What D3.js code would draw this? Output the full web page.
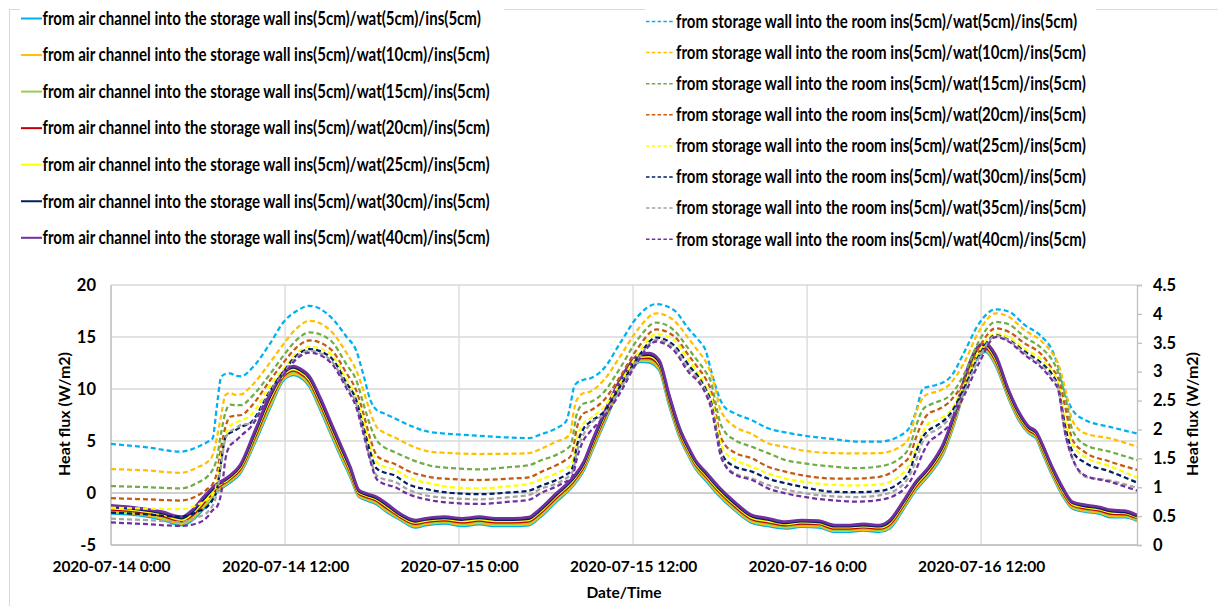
<!DOCTYPE html>
<html>
<head>
<meta charset="utf-8">
<script src="https://cdn.jsdelivr.net/npm/d3@7"></script>
<style>
  body { margin: 0; background: #fff; }
  svg text { font-family: Lato, "Open Sans", "DejaVu Sans", sans-serif; font-weight: 700; fill: #000; }
</style>
</head>
<body>
<svg id="chart" width="1218" height="606"></svg>
<script>
// ---------------------------------------------------------------
// Data: heat flux over 2020-07-14 0:00 .. 2020-07-16 22:45
// times are hours after 2020-07-14 0:00
// ---------------------------------------------------------------
const solidHours = [0,1.9,3.5,4.9,5.6, 6.5,7.2,8.1,8.9,9.9, 11.0,11.9,12.6,13.0,13.7, 14.4,15.1,15.8,16.5,17.1,
  17.6,18.3,19.0,19.9,21.0, 21.7,23.0,24.2,25.4,26.5, 27.7,28.8,29.5,30.7,31.9, 32.6,33.2,34.2,35.1,35.8,
  36.5,37.1,37.8,38.5,39.2, 39.9,40.3,41.0,41.9,43.0, 44.2,45.3,46.5,47.6,48.8, 49.9,50.7,51.9,53.0,53.7,
  54.6,55.5,56.4,57.4,58.3, 59.1,59.9,60.3,61.0,61.9, 62.6,63.3,63.8,64.2,64.9, 65.6,66.3,67.2,68.1,69.0,
  69.9,70.75];

// from air channel into the storage wall (left axis, W/m2)
const airWat5 = [-1.95,-2.12,-2.53,-3.08,-2.60, -1.32,-0.03,0.93,1.89,4.78, 8.30,10.87,11.35,11.18,10.22, 8.14,5.90,3.65,1.57,-0.36,
  -0.67,-1.06,-1.80,-2.53,-3.30, -3.08,-2.91,-3.17,-3.00,-3.17, -3.17,-3.08,-2.43,-0.84,0.77, 2.21,4.13,7.34,10.22,11.83,
  12.63,12.55,11.83,8.40,5.40, 3.40,2.38,1.25,-0.19,-1.63, -2.86,-3.17,-3.40,-3.24,-3.30, -3.72,-3.72,-3.60,-3.72,-3.40,
  -1.63,0.29,1.73,3.82,7.34, 11.18,13.27,13.59,12.31,9.10, 7.02,5.74,5.26,3.97,1.73, -0.19,-1.47,-1.80,-1.95,-2.33,
  -2.33,-2.66];
const airWat10 = [-1.83,-2.01,-2.41,-2.95,-2.44, -1.13,0.10,1.04,2.02,4.97, 8.52,11.00,11.49,11.32,10.38, 8.33,6.09,3.84,1.73,-0.25,
  -0.56,-0.94,-1.67,-2.43,-3.18, -2.97,-2.81,-3.05,-2.88,-3.05, -3.05,-2.96,-2.30,-0.71,0.90, 2.34,4.29,7.50,10.33,11.94,
  12.75,12.70,11.99,8.57,5.55, 3.53,2.51,1.38,-0.06,-1.50, -2.74,-3.05,-3.29,-3.13,-3.19, -3.61,-3.61,-3.50,-3.61,-3.27,
  -1.50,0.42,1.86,3.98,7.50, 11.34,13.43,13.72,12.47,9.23, 7.15,5.85,5.37,4.11,1.86, -0.06,-1.37,-1.69,-1.85,-2.21,
  -2.23,-2.57];
const airWat15 = [-1.70,-1.90,-2.29,-2.81,-2.28, -0.94,0.24,1.14,2.16,5.15, 8.73,11.13,11.64,11.45,10.54, 8.51,6.27,4.03,1.89,-0.14,
  -0.46,-0.83,-1.53,-2.34,-3.07, -2.86,-2.70,-2.92,-2.76,-2.92, -2.93,-2.83,-2.16,-0.57,1.04, 2.48,4.45,7.66,10.44,12.04,
  12.88,12.85,12.15,8.73,5.70, 3.67,2.64,1.52,0.08,-1.37, -2.61,-2.92,-3.19,-3.03,-3.09, -3.51,-3.51,-3.39,-3.51,-3.13,
  -1.37,0.56,2.00,4.14,7.66, 11.50,13.59,13.86,12.63,9.37, 7.29,5.95,5.47,4.24,2.00, 0.08,-1.26,-1.58,-1.74,-2.10,
  -2.12,-2.48];
const airWat20 = [-1.58,-1.79,-2.17,-2.68,-2.12, -0.76,0.37,1.25,2.29,5.34, 8.95,11.27,11.78,11.59,10.71, 8.70,6.46,4.22,2.05,-0.04,
  -0.35,-0.71,-1.40,-2.24,-2.95, -2.76,-2.60,-2.80,-2.64,-2.80, -2.81,-2.71,-2.03,-0.44,1.17, 2.61,4.62,7.82,10.55,12.15,
  13.00,13.00,12.31,8.90,5.85, 3.80,2.78,1.65,0.21,-1.24, -2.49,-2.80,-3.08,-2.92,-2.98, -3.40,-3.40,-3.29,-3.40,-3.00,
  -1.24,0.69,2.13,4.30,7.82, 11.67,13.75,13.99,12.79,9.50, 7.42,6.06,5.58,4.38,2.13, 0.21,-1.16,-1.48,-1.64,-1.98,
  -2.02,-2.39];
const airWat25 = [-1.45,-1.67,-2.04,-2.55,-1.95, -0.57,0.50,1.36,2.42,5.53, 9.16,11.40,11.92,11.72,10.87, 8.89,6.65,4.40,2.21,0.07,
  -0.24,-0.59,-1.26,-2.14,-2.83, -2.65,-2.49,-2.68,-2.52,-2.68, -2.69,-2.58,-1.90,-0.30,1.30, 2.74,4.78,7.98,10.65,12.26,
  13.12,13.15,12.47,9.07,6.00, 3.93,2.91,1.78,0.34,-1.10, -2.37,-2.68,-2.97,-2.81,-2.87, -3.29,-3.29,-3.19,-3.29,-2.87,
  -1.10,0.82,2.26,4.46,7.98, 11.83,13.91,14.12,12.95,9.63, 7.55,6.17,5.69,4.51,2.26, 0.34,-1.05,-1.37,-1.53,-1.86,
  -1.91,-2.30];
const airWat30 = [-1.33,-1.56,-1.92,-2.41,-1.79, -0.38,0.64,1.46,2.56,5.71, 9.38,11.53,12.07,11.86,11.03, 9.07,6.83,4.59,2.37,0.18,
  -0.14,-0.48,-1.13,-2.05,-2.72, -2.54,-2.39,-2.55,-2.40,-2.55, -2.57,-2.46,-1.76,-0.17,1.44, 2.88,4.94,8.14,10.76,12.36,
  13.25,13.30,12.63,9.23,6.15, 4.07,3.04,1.92,0.48,-0.97, -2.24,-2.55,-2.87,-2.71,-2.77, -3.19,-3.19,-3.08,-3.19,-2.73,
  -0.97,0.96,2.40,4.62,8.14, 11.99,14.07,14.26,13.11,9.77, 7.69,6.27,5.79,4.65,2.40, 0.48,-0.95,-1.26,-1.43,-1.75,
  -1.81,-2.21];
const airWat40 = [-1.20,-1.45,-1.80,-2.28,-1.63, -0.19,0.77,1.57,2.69,5.90, 9.59,11.66,12.21,11.99,11.19, 9.26,7.02,4.78,2.53,0.29,
  -0.03,-0.36,-0.99,-1.95,-2.60, -2.43,-2.28,-2.43,-2.28,-2.43, -2.45,-2.33,-1.63,-0.03,1.57, 3.01,5.10,8.30,10.87,12.47,
  13.37,13.45,12.79,9.40,6.30, 4.20,3.17,2.05,0.61,-0.84, -2.12,-2.43,-2.76,-2.60,-2.66, -3.08,-3.08,-2.98,-3.08,-2.60,
  -0.84,1.09,2.53,4.78,8.30, 12.15,14.23,14.39,13.27,9.90, 7.82,6.38,5.90,4.78,2.53, 0.61,-0.84,-1.15,-1.32,-1.63,
  -1.70,-2.12];

const dashedHours = [0,2.5,4.8,6.0,6.7, 7.0,7.3,7.6,7.9,8.2, 8.6,9.0,9.6,11.0,11.9, 12.8,13.7,15.1,16.25,16.9,
  17.4,17.9,18.3,18.8,19.5, 20.5,21.9,23.5,25.4,27.5, 28.8,29.7,30.7,31.4,31.7, 31.9,32.1,32.6,33.0,34.0,
  35.1,36.3,37.6,38.8,39.9, 40.5,41.0,41.4,41.7,42.0, 42.3,43.0,44.2,45.3,46.5, 47.6,49.9,51.4,53.0,54.6,
  55.1,55.5,56.0,56.4,56.9, 57.9,58.8,59.9,61.0,61.9, 63.0,64.2,64.9,65.3,65.8, 66.3,67.2,68.8,70.75];

// from storage wall into the room (right axis, W/m2)
const roomWat5 = [1.75,1.69,1.615,1.70,1.79, 1.84,2.40,2.91,2.96,2.97, 2.93,2.92,3.03,3.50,3.86, 4.05,4.14,3.96,3.60,3.37,
  2.95,2.50,2.34,2.28,2.20, 2.08,1.96,1.92,1.89,1.86, 1.85,1.92,2.02,2.15,2.45, 2.71,2.80,2.86,2.88,3.06,
  3.49,3.95,4.17,4.07,3.72, 3.55,3.37,3.00,2.74,2.52, 2.39,2.28,2.16,2.02,1.95, 1.90,1.83,1.79,1.79,1.92,
  2.05,2.30,2.71,2.74,2.77, 2.91,3.32,3.85,4.08,4.04, 3.81,3.60,3.37,3.10,2.62, 2.34,2.16,2.05,1.93];
const roomWat10 = [1.315,1.29,1.25,1.35,1.45, 1.55,1.85,2.25,2.60,2.63, 2.60,2.61,2.73,3.17,3.48, 3.75,3.88,3.72,3.32,3.03,
  2.68,2.28,2.05,1.95,1.87, 1.74,1.62,1.59,1.575,1.58, 1.59,1.67,1.79,1.86,1.95, 2.30,2.50,2.63,2.65,2.86,
  3.26,3.72,4.01,3.89,3.55, 3.35,3.18,2.95,2.68,2.35, 2.22,2.05,1.92,1.76,1.70, 1.64,1.59,1.585,1.59,1.73,
  1.90,2.28,2.55,2.62,2.65, 2.80,3.14,3.72,4.01,3.95, 3.72,3.52,3.32,3.15,2.70, 2.15,1.93,1.85,1.70];
const roomWat15 = [1.02,1.00,0.98,1.08,1.20, 1.30,1.50,1.95,2.30,2.43, 2.42,2.42,2.54,2.97,3.28, 3.55,3.68,3.55,3.12,2.86,
  2.45,2.05,1.82,1.70,1.615, 1.50,1.38,1.33,1.31,1.35, 1.38,1.47,1.56,1.66,1.73, 1.95,2.25,2.45,2.47,2.65,
  3.06,3.55,3.85,3.72,3.37, 3.17,3.00,2.80,2.45,2.12, 1.97,1.82,1.70,1.59,1.47, 1.42,1.355,1.33,1.36,1.54,
  1.72,2.05,2.35,2.42,2.47, 2.60,2.94,3.55,3.86,3.82, 3.60,3.40,3.20,3.00,2.57, 1.99,1.73,1.62,1.47];
const roomWat20 = [0.81,0.79,0.77,0.86,0.98, 1.05,1.25,1.70,2.05,2.22, 2.24,2.25,2.38,2.86,3.16, 3.42,3.54,3.40,2.97,2.68,
  2.28,1.82,1.56,1.47,1.41, 1.28,1.18,1.14,1.125,1.15, 1.17,1.27,1.38,1.48,1.54, 1.70,2.00,2.28,2.32,2.51,
  2.91,3.40,3.73,3.62,3.26, 3.06,2.88,2.65,2.28,1.90, 1.75,1.60,1.50,1.355,1.27, 1.21,1.15,1.15,1.18,1.41,
  1.55,1.85,2.15,2.28,2.33, 2.50,2.82,3.43,3.75,3.69, 3.49,3.29,3.05,2.90,2.39, 1.82,1.60,1.45,1.30];
const roomWat25 = [0.645,0.63,0.62,0.70,0.80, 0.88,1.05,1.55,1.90,2.06, 2.12,2.16,2.24,2.77,3.05, 3.32,3.43,3.32,2.86,2.57,
  2.16,1.70,1.44,1.36,1.31, 1.17,1.07,1.00,0.98,1.02, 1.06,1.14,1.24,1.33,1.38, 1.50,1.80,2.11,2.18,2.39,
  2.80,3.29,3.65,3.55,3.17, 2.97,2.75,2.55,2.16,1.80, 1.62,1.48,1.355,1.24,1.15, 1.10,1.04,1.03,1.05,1.24,
  1.42,1.65,1.96,2.11,2.16, 2.33,2.75,3.37,3.66,3.60, 3.40,3.20,3.00,2.82,2.16, 1.75,1.52,1.37,1.17];
const roomWat30 = [0.56,0.53,0.49,0.58,0.68, 0.78,0.95,1.45,1.87,1.94, 1.99,2.05,2.11,2.68,3.00, 3.28,3.39,3.26,2.80,2.51,
  2.05,1.59,1.33,1.26,1.21, 1.05,0.96,0.90,0.88,0.91, 0.94,1.03,1.125,1.22,1.28, 1.40,1.68,2.02,2.12,2.31,
  2.74,3.23,3.59,3.46,3.09, 2.91,2.70,2.45,2.05,1.68, 1.50,1.36,1.27,1.15,1.07, 1.01,0.92,0.915,0.935,1.125,
  1.30,1.60,1.88,1.99,2.06, 2.28,2.70,3.30,3.63,3.55, 3.35,3.14,2.95,2.75,2.05, 1.62,1.42,1.28,1.08];
const roomWat35 = [0.455,0.43,0.40,0.48,0.58, 0.68,0.90,1.40,1.85,1.96, 2.02,2.08,2.10,2.66,2.97, 3.25,3.36,3.21,2.75,2.45,
  1.98,1.47,1.21,1.14,1.10, 0.96,0.85,0.81,0.79,0.83, 0.865,0.98,1.06,1.16,1.22, 1.32,1.58,1.92,2.08,2.27,
  2.69,3.20,3.55,3.42,3.03, 2.87,2.66,2.40,2.02,1.62, 1.42,1.24,1.15,1.04,0.96, 0.905,0.84,0.83,0.86,1.04,
  1.22,1.45,1.80,1.92,1.99, 2.22,2.63,3.26,3.62,3.54, 3.32,3.10,2.90,2.72,1.93, 1.50,1.18,1.12,0.99];
const roomWat40 = [0.39,0.36,0.33,0.38,0.50, 0.60,0.66,0.90,1.50,1.72, 1.80,1.90,2.03,2.63,2.94, 3.22,3.33,3.17,2.71,2.39,
  1.93,1.44,1.15,1.06,1.01, 0.88,0.78,0.73,0.71,0.75, 0.78,0.905,1.01,1.10,1.14, 1.25,1.47,1.82,1.95,2.22,
  2.63,3.17,3.52,3.37,2.97, 2.83,2.62,2.35,1.99,1.58, 1.40,1.22,1.125,0.98,0.895, 0.84,0.77,0.75,0.78,0.95,
  1.10,1.30,1.60,1.78,1.88, 2.11,2.57,3.17,3.60,3.52, 3.29,3.06,2.85,2.70,1.93, 1.50,1.20,1.10,0.94];

const airLabels = [
  "from air channel into the storage wall ins(5cm)/wat(5cm)/ins(5cm)",
  "from air channel into the storage wall ins(5cm)/wat(10cm)/ins(5cm)",
  "from air channel into the storage wall ins(5cm)/wat(15cm)/ins(5cm)",
  "from air channel into the storage wall ins(5cm)/wat(20cm)/ins(5cm)",
  "from air channel into the storage wall ins(5cm)/wat(25cm)/ins(5cm)",
  "from air channel into the storage wall ins(5cm)/wat(30cm)/ins(5cm)",
  "from air channel into the storage wall ins(5cm)/wat(40cm)/ins(5cm)"
];
const roomLabels = [
  "from storage wall into the room ins(5cm)/wat(5cm)/ins(5cm)",
  "from storage wall into the room ins(5cm)/wat(10cm)/ins(5cm)",
  "from storage wall into the room ins(5cm)/wat(15cm)/ins(5cm)",
  "from storage wall into the room ins(5cm)/wat(20cm)/ins(5cm)",
  "from storage wall into the room ins(5cm)/wat(25cm)/ins(5cm)",
  "from storage wall into the room ins(5cm)/wat(30cm)/ins(5cm)",
  "from storage wall into the room ins(5cm)/wat(35cm)/ins(5cm)",
  "from storage wall into the room ins(5cm)/wat(40cm)/ins(5cm)"
];
const airColors = ["#00B0F0", "#FFC000", "#92D050", "#C00000", "#FFFF00", "#002060", "#7030A0"];
const roomColors = ["#00B0F0", "#FFC000", "#70AD47", "#C55A11", "#FFFF00", "#002060", "#A5A5A5", "#7030A0"];

const leftTicks = [-5, 0, 5, 10, 15, 20];
const rightTicks = [0, 0.5, 1, 1.5, 2, 2.5, 3, 3.5, 4, 4.5];
const xTitle = "Date/Time";
const yTitle = "Heat flux (W/m2)";

const airSeries = [airWat5, airWat10, airWat15, airWat20, airWat25, airWat30, airWat40];
const roomSeries = [roomWat5, roomWat10, roomWat15, roomWat20, roomWat25, roomWat30, roomWat35, roomWat40];

// ---------------------------------------------------------------
// Layout
// ---------------------------------------------------------------
const svg = d3.select("#chart");
const plot = { left: 111, right: 1137, top: 285, bottom: 545 };
const t0 = new Date(2020, 6, 14, 0, 0, 0);
const toDate = h => new Date(t0.getTime() + h * 3600000);

const x = d3.scaleTime().domain([t0, toDate(70.75)]).range([plot.left, plot.right]);
const yL = d3.scaleLinear().domain([-5, 20]).range([plot.bottom, plot.top]);
const yR = d3.scaleLinear().domain([0, 4.5]).range([plot.bottom, plot.top]);
const xTicks = x.ticks(d3.timeHour.every(12));

// chart frame
svg.append("rect").attr("x", 9.5).attr("y", 9.5).attr("width", 1400).attr("height", 800)
  .attr("fill", "#fff").attr("stroke", "#d9d9d9").attr("stroke-width", 1);

// gridlines
const grid = svg.append("g");
grid.selectAll("line.h").data(leftTicks).join("line")
  .attr("x1", plot.left).attr("x2", plot.right)
  .attr("y1", d => yL(d)).attr("y2", d => yL(d))
  .attr("stroke", d => d === 0 ? "#bfbfbf" : "#d9d9d9").attr("stroke-width", 1.3);
grid.selectAll("line.v").data(xTicks).join("line")
  .attr("x1", d => x(d)).attr("x2", d => x(d))
  .attr("y1", plot.top).attr("y2", plot.bottom)
  .attr("stroke", "#d9d9d9").attr("stroke-width", 1.3);

// axis lines
svg.append("line").attr("x1", plot.left).attr("x2", plot.left).attr("y1", plot.top).attr("y2", plot.bottom)
  .attr("stroke", "#bfbfbf").attr("stroke-width", 1.3);
svg.append("line").attr("x1", plot.left).attr("x2", plot.right).attr("y1", plot.bottom).attr("y2", plot.bottom)
  .attr("stroke", "#bfbfbf").attr("stroke-width", 1.3);

// left axis
const axL = svg.append("g").attr("transform", `translate(${plot.left},0)`)
  .call(d3.axisLeft(yL).tickValues(leftTicks).tickSize(0).tickPadding(15).tickFormat(d => String(d)));
axL.select(".domain").remove();
axL.selectAll("text").style("font-size", "16.5px").attr("fill", "#000");

// right axis
const axR = svg.append("g").attr("transform", `translate(${plot.right},0)`)
  .call(d3.axisRight(yR).tickValues(rightTicks).tickSize(5).tickPadding(11).tickFormat(d => String(d)));
axR.select(".domain").attr("stroke", "#bfbfbf").attr("stroke-width", 1.3);
axR.selectAll(".tick line").attr("stroke", "#bfbfbf").attr("stroke-width", 1.3);
axR.selectAll("text").style("font-size", "16.5px").attr("fill", "#000");

// bottom axis
const axB = svg.append("g").attr("transform", `translate(0,${plot.bottom})`)
  .call(d3.axisBottom(x).tickValues(xTicks).tickSize(0).tickPadding(16).tickFormat(d3.timeFormat("%Y-%m-%d %-H:%M")));
axB.select(".domain").remove();
axB.selectAll("text").style("font-size", "15.5px").attr("fill", "#000");

// axis titles
svg.append("text").attr("x", 624).attr("y", 593).attr("text-anchor", "middle")
  .attr("dy", "0.35em").style("font-size", "15.5px").text(xTitle);
svg.append("text").attr("transform", "translate(64,414) rotate(-90)").attr("text-anchor", "middle")
  .attr("dy", "0.35em").style("font-size", "16px").text(yTitle);
svg.append("text").attr("transform", "translate(1192,414) rotate(-90)").attr("text-anchor", "middle")
  .attr("dy", "0.35em").style("font-size", "16px").text(yTitle);

// series
svg.append("clipPath").attr("id", "plotClip").append("rect")
  .attr("x", plot.left).attr("y", plot.top - 5).attr("width", plot.right - plot.left).attr("height", plot.bottom - plot.top + 10);
const lines = svg.append("g").attr("clip-path", "url(#plotClip)");

const solidLine = d3.line().x((d, i) => x(toDate(solidHours[i]))).y(d => yL(d)).curve(d3.curveMonotoneX);
const dashedLine = d3.line().x((d, i) => x(toDate(dashedHours[i]))).y(d => yR(d)).curve(d3.curveMonotoneX);

airSeries.forEach((vals, k) => {
  lines.append("path").attr("d", solidLine(vals)).attr("fill", "none")
    .attr("stroke", airColors[k]).attr("stroke-width", 2.75).attr("stroke-linejoin", "round");
});
roomSeries.forEach((vals, k) => {
  lines.append("path").attr("d", dashedLine(vals)).attr("fill", "none")
    .attr("stroke", roomColors[k]).attr("stroke-width", 2.25).attr("stroke-dasharray", "5,3");
});

// legends
const legendFont = 18, legendSquash = 0.836;
svg.append("rect").attr("x", 20).attr("y", 8).attr("width", 484).attr("height", 250).attr("fill", "#fff");
svg.append("rect").attr("x", 645).attr("y", 8).attr("width", 451).attr("height", 250).attr("fill", "#fff");

function squash(sel) {
  sel.each(function () {
    const w = this.getComputedTextLength();
    d3.select(this).attr("textLength", w * legendSquash).attr("lengthAdjust", "spacingAndGlyphs");
  });
}

const legL = svg.append("g");
airLabels.forEach((lab, k) => {
  const yy = 18.5 + k * 36.55;
  legL.append("line").attr("x1", 21).attr("x2", 42).attr("y1", yy).attr("y2", yy)
    .attr("stroke", airColors[k]).attr("stroke-width", 2);
  legL.append("text").attr("x", 42.5).attr("y", yy).attr("dy", "0.35em")
    .style("font-size", legendFont + "px").text(lab).call(squash);
});
const legR = svg.append("g");
roomLabels.forEach((lab, k) => {
  const yy = 21.5 + k * 31.1;
  legR.append("line").attr("x1", 646).attr("x2", 675).attr("y1", yy).attr("y2", yy)
    .attr("stroke", roomColors[k]).attr("stroke-width", 1.5).attr("stroke-dasharray", "3.5,2.3");
  legR.append("text").attr("x", 676).attr("y", yy).attr("dy", "0.35em")
    .style("font-size", legendFont + "px").text(lab).call(squash);
});
</script>
</body>
</html>
